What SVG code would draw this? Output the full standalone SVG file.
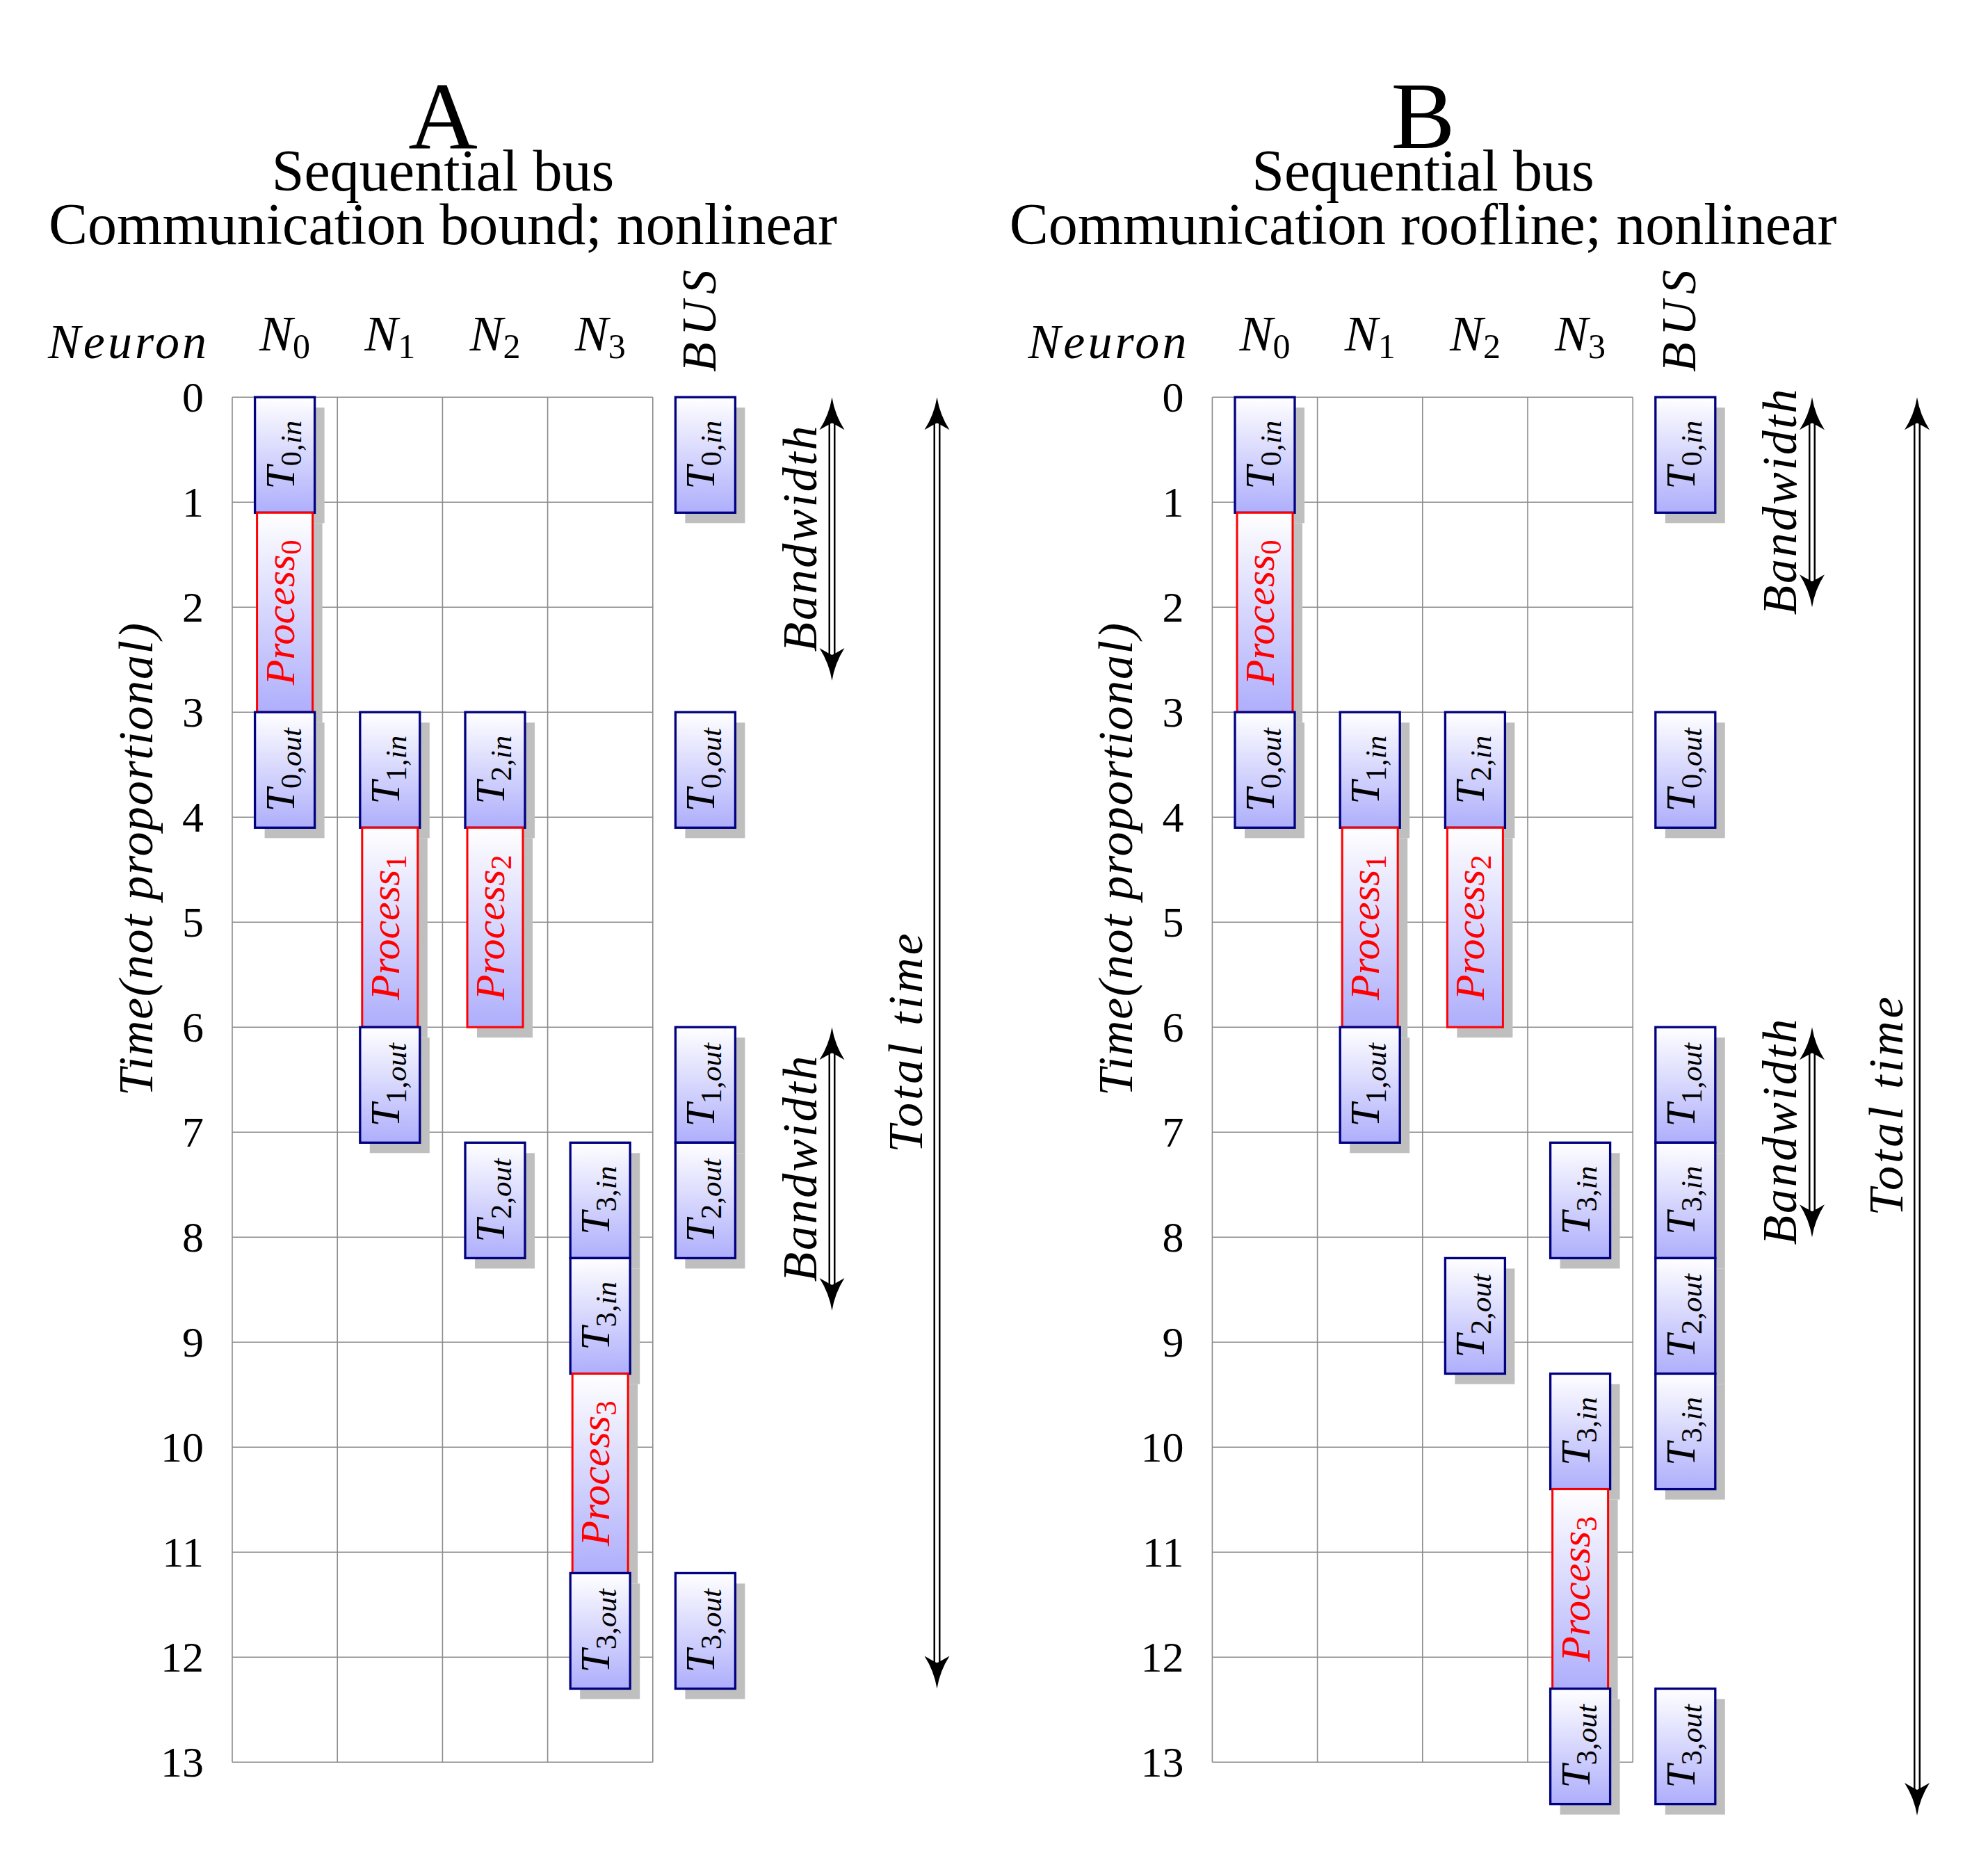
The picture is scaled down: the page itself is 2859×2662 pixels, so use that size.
<svg xmlns="http://www.w3.org/2000/svg" xmlns:xlink="http://www.w3.org/1999/xlink" width="2859" height="2662" viewBox="0 0 2859 2662">
<style>
.txt{font-family:'Liberation Serif','Times New Roman',serif;fill:#000}
.it{font-style:italic}
.up{font-style:normal}
.title{font-size:84px;text-anchor:middle}
.big{font-size:138px;text-anchor:middle}
.num{font-size:62px;text-anchor:end}
.hdr{font-size:72px;text-anchor:middle}
.ax{font-size:70px}
.lbl{font-size:60px;text-anchor:middle}
.sub{font-size:43px}
.hsub{font-size:50px}
.red{fill:#ff0000}
.grid{stroke:#8c8c8c;stroke-width:1.6;fill:none}
.shadow{fill:#bfbfbf}
.tbox{fill:url(#g);stroke:#000080;stroke-width:3.3}
.pbox{fill:url(#g);stroke:#ff0000;stroke-width:3}
.dblo{stroke:#000;stroke-width:10;fill:none}
.dbli{stroke:#fff;stroke-width:5;fill:none}
</style>
<defs>
<linearGradient id="g" x1="0" y1="0" x2="0" y2="1">
<stop offset="0" stop-color="#ffffff"/>
<stop offset="1" stop-color="#aeaefc"/>
</linearGradient>
<path id="head" d="M0 0 Q4 25 18 47 Q6 40 0 37 Q-6 40 -18 47 Q-4 25 0 0 Z" fill="#000"/>
</defs>
<rect width="2859" height="2662" fill="#fff"/>

<!-- ================= PANEL A ================= -->
<g id="A-titles" class="txt">
<text class="txt big" x="637" y="213">A</text>
<text class="txt title" x="637" y="274">Sequential bus</text>
<text class="txt title" x="637" y="351">Communication bound; nonlinear</text>
</g>
<g id="A-headers" class="txt">
<text class="txt it ax" x="69" y="515" textLength="228" lengthAdjust="spacing">Neuron</text>
<text class="txt it hdr" x="409.6" y="503.5">N<tspan class="up hsub" dy="11">0</tspan></text>
<text class="txt it hdr" x="560.8" y="503.5">N<tspan class="up hsub" dy="11">1</tspan></text>
<text class="txt it hdr" x="712" y="503.5">N<tspan class="up hsub" dy="11">2</tspan></text>
<text class="txt it hdr" x="863.2" y="503.5">N<tspan class="up hsub" dy="11">3</tspan></text>
<text class="txt it ax" transform="translate(1029,535) rotate(-90)" textLength="147" lengthAdjust="spacing">BUS</text>
<text class="txt it ax" transform="translate(219,1576) rotate(-90)" textLength="680" lengthAdjust="spacing">Time(not proportional)</text>
</g>
<g id="A-axis" class="txt num">
<text x="293" y="592.2">0</text><text x="293" y="743.2">1</text><text x="293" y="894.2">2</text><text x="293" y="1045.2">3</text>
<text x="293" y="1196.2">4</text><text x="293" y="1347.2">5</text><text x="293" y="1498.2">6</text><text x="293" y="1649.2">7</text>
<text x="293" y="1800.2">8</text><text x="293" y="1951.2">9</text><text x="293" y="2102.2">10</text><text x="293" y="2253.2">11</text>
<text x="293" y="2404.2">12</text><text x="293" y="2555.2">13</text>
</g>
<g id="A-grid">
<path class="grid" d="M334 571.2H938.8M334 722.2H938.8M334 873.2H938.8M334 1024.2H938.8M334 1175.2H938.8M334 1326.2H938.8M334 1477.2H938.8M334 1628.2H938.8M334 1779.2H938.8M334 1930.2H938.8M334 2081.2H938.8M334 2232.2H938.8M334 2383.2H938.8M334 2534.2H938.8M334 571.2V2534.2M485.2 571.2V2534.2M636.4 571.2V2534.2M787.6 571.2V2534.2M938.8 571.2V2534.2"/>
</g>

<!-- A column N0 -->
<g id="A-N0-Tin"><rect class="shadow" x="380.6" y="586.2" width="86" height="166.1"/><rect class="tbox" x="366.6" y="571.2" width="86" height="166.1"/><text class="txt it lbl" transform="translate(422.6,654.25) rotate(-90)">T<tspan class="sub up" dy="10">0,</tspan><tspan class="sub">in</tspan></text></g>
<g id="A-N0-P"><rect class="shadow" x="383.6" y="752.3" width="80" height="286.9"/><rect class="pbox" x="369.6" y="737.3" width="80" height="286.9"/><text class="txt it lbl red" transform="translate(422.6,880.75) rotate(-90)">Process<tspan class="sub up" dy="10">0</tspan></text></g>
<g id="A-N0-Tout"><rect class="shadow" x="380.6" y="1039.2" width="86" height="166.1"/><rect class="tbox" x="366.6" y="1024.2" width="86" height="166.1"/><text class="txt it lbl" transform="translate(422.6,1107.25) rotate(-90)">T<tspan class="sub up" dy="10">0,</tspan><tspan class="sub">out</tspan></text></g>
<!-- A column N1 -->
<g id="A-N1-Tin"><rect class="shadow" x="531.8" y="1039.2" width="86" height="166.1"/><rect class="tbox" x="517.8" y="1024.2" width="86" height="166.1"/><text class="txt it lbl" transform="translate(573.8,1107.25) rotate(-90)">T<tspan class="sub up" dy="10">1,</tspan><tspan class="sub">in</tspan></text></g>
<g id="A-N1-P"><rect class="shadow" x="534.8" y="1205.3" width="80" height="286.9"/><rect class="pbox" x="520.8" y="1190.3" width="80" height="286.9"/><text class="txt it lbl red" transform="translate(573.8,1333.75) rotate(-90)">Process<tspan class="sub up" dy="10">1</tspan></text></g>
<g id="A-N1-Tout"><rect class="shadow" x="531.8" y="1492.2" width="86" height="166.1"/><rect class="tbox" x="517.8" y="1477.2" width="86" height="166.1"/><text class="txt it lbl" transform="translate(573.8,1560.25) rotate(-90)">T<tspan class="sub up" dy="10">1,</tspan><tspan class="sub">out</tspan></text></g>
<!-- A column N2 -->
<g id="A-N2-Tin"><rect class="shadow" x="683" y="1039.2" width="86" height="166.1"/><rect class="tbox" x="669" y="1024.2" width="86" height="166.1"/><text class="txt it lbl" transform="translate(725,1107.25) rotate(-90)">T<tspan class="sub up" dy="10">2,</tspan><tspan class="sub">in</tspan></text></g>
<g id="A-N2-P"><rect class="shadow" x="686" y="1205.3" width="80" height="286.9"/><rect class="pbox" x="672" y="1190.3" width="80" height="286.9"/><text class="txt it lbl red" transform="translate(725,1333.75) rotate(-90)">Process<tspan class="sub up" dy="10">2</tspan></text></g>
<g id="A-N2-Tout"><rect class="shadow" x="683" y="1658.3" width="86" height="166.1"/><rect class="tbox" x="669" y="1643.3" width="86" height="166.1"/><text class="txt it lbl" transform="translate(725,1726.35) rotate(-90)">T<tspan class="sub up" dy="10">2,</tspan><tspan class="sub">out</tspan></text></g>
<!-- A column N3 -->
<g id="A-N3-Tin1"><rect class="shadow" x="834.2" y="1658.3" width="86" height="166.1"/><rect class="tbox" x="820.2" y="1643.3" width="86" height="166.1"/><text class="txt it lbl" transform="translate(876.2,1726.35) rotate(-90)">T<tspan class="sub up" dy="10">3,</tspan><tspan class="sub">in</tspan></text></g>
<g id="A-N3-Tin2"><rect class="shadow" x="834.2" y="1824.4" width="86" height="166.1"/><rect class="tbox" x="820.2" y="1809.4" width="86" height="166.1"/><text class="txt it lbl" transform="translate(876.2,1892.45) rotate(-90)">T<tspan class="sub up" dy="10">3,</tspan><tspan class="sub">in</tspan></text></g>
<g id="A-N3-P"><rect class="shadow" x="837.2" y="1990.5" width="80" height="286.9"/><rect class="pbox" x="823.2" y="1975.5" width="80" height="286.9"/><text class="txt it lbl red" transform="translate(876.2,2118.95) rotate(-90)">Process<tspan class="sub up" dy="10">3</tspan></text></g>
<g id="A-N3-Tout"><rect class="shadow" x="834.2" y="2277.4" width="86" height="166.1"/><rect class="tbox" x="820.2" y="2262.4" width="86" height="166.1"/><text class="txt it lbl" transform="translate(876.2,2345.45) rotate(-90)">T<tspan class="sub up" dy="10">3,</tspan><tspan class="sub">out</tspan></text></g>
<!-- A BUS -->
<g id="A-BUS-T0in"><rect class="shadow" x="985.4" y="586.2" width="86" height="166.1"/><rect class="tbox" x="971.4" y="571.2" width="86" height="166.1"/><text class="txt it lbl" transform="translate(1027.4,654.25) rotate(-90)">T<tspan class="sub up" dy="10">0,</tspan><tspan class="sub">in</tspan></text></g>
<g id="A-BUS-T0out"><rect class="shadow" x="985.4" y="1039.2" width="86" height="166.1"/><rect class="tbox" x="971.4" y="1024.2" width="86" height="166.1"/><text class="txt it lbl" transform="translate(1027.4,1107.25) rotate(-90)">T<tspan class="sub up" dy="10">0,</tspan><tspan class="sub">out</tspan></text></g>
<g id="A-BUS-T1out"><rect class="shadow" x="985.4" y="1492.2" width="86" height="166.1"/><rect class="tbox" x="971.4" y="1477.2" width="86" height="166.1"/><text class="txt it lbl" transform="translate(1027.4,1560.25) rotate(-90)">T<tspan class="sub up" dy="10">1,</tspan><tspan class="sub">out</tspan></text></g>
<g id="A-BUS-T2out"><rect class="shadow" x="985.4" y="1658.3" width="86" height="166.1"/><rect class="tbox" x="971.4" y="1643.3" width="86" height="166.1"/><text class="txt it lbl" transform="translate(1027.4,1726.35) rotate(-90)">T<tspan class="sub up" dy="10">2,</tspan><tspan class="sub">out</tspan></text></g>
<g id="A-BUS-T3out"><rect class="shadow" x="985.4" y="2277.4" width="86" height="166.1"/><rect class="tbox" x="971.4" y="2262.4" width="86" height="166.1"/><text class="txt it lbl" transform="translate(1027.4,2345.45) rotate(-90)">T<tspan class="sub up" dy="10">3,</tspan><tspan class="sub">out</tspan></text></g>

<!-- ================= PANEL B ================= -->
<g id="B-titles" class="txt">
<text class="txt big" x="2046.5" y="213">B</text>
<text class="txt title" x="2046.5" y="274">Sequential bus</text>
<text class="txt title" x="2046.5" y="351">Communication roofline; nonlinear</text>
</g>
<g id="B-headers" class="txt">
<text class="txt it ax" x="1478.4" y="515" textLength="228" lengthAdjust="spacing">Neuron</text>
<text class="txt it hdr" x="1819" y="503.5">N<tspan class="up hsub" dy="11">0</tspan></text>
<text class="txt it hdr" x="1970.2" y="503.5">N<tspan class="up hsub" dy="11">1</tspan></text>
<text class="txt it hdr" x="2121.4" y="503.5">N<tspan class="up hsub" dy="11">2</tspan></text>
<text class="txt it hdr" x="2272.6" y="503.5">N<tspan class="up hsub" dy="11">3</tspan></text>
<text class="txt it ax" transform="translate(2438.4,535) rotate(-90)" textLength="147" lengthAdjust="spacing">BUS</text>
<text class="txt it ax" transform="translate(1628.4,1576) rotate(-90)" textLength="680" lengthAdjust="spacing">Time(not proportional)</text>
</g>
<g id="B-axis" class="txt num">
<text x="1702.4" y="592.2">0</text><text x="1702.4" y="743.2">1</text><text x="1702.4" y="894.2">2</text><text x="1702.4" y="1045.2">3</text>
<text x="1702.4" y="1196.2">4</text><text x="1702.4" y="1347.2">5</text><text x="1702.4" y="1498.2">6</text><text x="1702.4" y="1649.2">7</text>
<text x="1702.4" y="1800.2">8</text><text x="1702.4" y="1951.2">9</text><text x="1702.4" y="2102.2">10</text><text x="1702.4" y="2253.2">11</text>
<text x="1702.4" y="2404.2">12</text><text x="1702.4" y="2555.2">13</text>
</g>
<g id="B-grid">
<path class="grid" d="M1743.4 571.2H2348.2M1743.4 722.2H2348.2M1743.4 873.2H2348.2M1743.4 1024.2H2348.2M1743.4 1175.2H2348.2M1743.4 1326.2H2348.2M1743.4 1477.2H2348.2M1743.4 1628.2H2348.2M1743.4 1779.2H2348.2M1743.4 1930.2H2348.2M1743.4 2081.2H2348.2M1743.4 2232.2H2348.2M1743.4 2383.2H2348.2M1743.4 2534.2H2348.2M1743.4 571.2V2534.2M1894.6 571.2V2534.2M2045.8 571.2V2534.2M2197 571.2V2534.2M2348.2 571.2V2534.2"/>
</g>

<!-- B column N0 -->
<g id="B-N0-Tin"><rect class="shadow" x="1790" y="586.2" width="86" height="166.1"/><rect class="tbox" x="1776" y="571.2" width="86" height="166.1"/><text class="txt it lbl" transform="translate(1832,654.25) rotate(-90)">T<tspan class="sub up" dy="10">0,</tspan><tspan class="sub">in</tspan></text></g>
<g id="B-N0-P"><rect class="shadow" x="1793" y="752.3" width="80" height="286.9"/><rect class="pbox" x="1779" y="737.3" width="80" height="286.9"/><text class="txt it lbl red" transform="translate(1832,880.75) rotate(-90)">Process<tspan class="sub up" dy="10">0</tspan></text></g>
<g id="B-N0-Tout"><rect class="shadow" x="1790" y="1039.2" width="86" height="166.1"/><rect class="tbox" x="1776" y="1024.2" width="86" height="166.1"/><text class="txt it lbl" transform="translate(1832,1107.25) rotate(-90)">T<tspan class="sub up" dy="10">0,</tspan><tspan class="sub">out</tspan></text></g>
<!-- B column N1 -->
<g id="B-N1-Tin"><rect class="shadow" x="1941.2" y="1039.2" width="86" height="166.1"/><rect class="tbox" x="1927.2" y="1024.2" width="86" height="166.1"/><text class="txt it lbl" transform="translate(1983.2,1107.25) rotate(-90)">T<tspan class="sub up" dy="10">1,</tspan><tspan class="sub">in</tspan></text></g>
<g id="B-N1-P"><rect class="shadow" x="1944.2" y="1205.3" width="80" height="286.9"/><rect class="pbox" x="1930.2" y="1190.3" width="80" height="286.9"/><text class="txt it lbl red" transform="translate(1983.2,1333.75) rotate(-90)">Process<tspan class="sub up" dy="10">1</tspan></text></g>
<g id="B-N1-Tout"><rect class="shadow" x="1941.2" y="1492.2" width="86" height="166.1"/><rect class="tbox" x="1927.2" y="1477.2" width="86" height="166.1"/><text class="txt it lbl" transform="translate(1983.2,1560.25) rotate(-90)">T<tspan class="sub up" dy="10">1,</tspan><tspan class="sub">out</tspan></text></g>
<!-- B column N2 -->
<g id="B-N2-Tin"><rect class="shadow" x="2092.4" y="1039.2" width="86" height="166.1"/><rect class="tbox" x="2078.4" y="1024.2" width="86" height="166.1"/><text class="txt it lbl" transform="translate(2134.4,1107.25) rotate(-90)">T<tspan class="sub up" dy="10">2,</tspan><tspan class="sub">in</tspan></text></g>
<g id="B-N2-P"><rect class="shadow" x="2095.4" y="1205.3" width="80" height="286.9"/><rect class="pbox" x="2081.4" y="1190.3" width="80" height="286.9"/><text class="txt it lbl red" transform="translate(2134.4,1333.75) rotate(-90)">Process<tspan class="sub up" dy="10">2</tspan></text></g>
<g id="B-N2-Tout"><rect class="shadow" x="2092.4" y="1824.4" width="86" height="166.1"/><rect class="tbox" x="2078.4" y="1809.4" width="86" height="166.1"/><text class="txt it lbl" transform="translate(2134.4,1892.45) rotate(-90)">T<tspan class="sub up" dy="10">2,</tspan><tspan class="sub">out</tspan></text></g>
<!-- B column N3 -->
<g id="B-N3-Tin1"><rect class="shadow" x="2243.6" y="1658.3" width="86" height="166.1"/><rect class="tbox" x="2229.6" y="1643.3" width="86" height="166.1"/><text class="txt it lbl" transform="translate(2285.6,1726.35) rotate(-90)">T<tspan class="sub up" dy="10">3,</tspan><tspan class="sub">in</tspan></text></g>
<g id="B-N3-Tin2"><rect class="shadow" x="2243.6" y="1990.5" width="86" height="166.1"/><rect class="tbox" x="2229.6" y="1975.5" width="86" height="166.1"/><text class="txt it lbl" transform="translate(2285.6,2058.55) rotate(-90)">T<tspan class="sub up" dy="10">3,</tspan><tspan class="sub">in</tspan></text></g>
<g id="B-N3-P"><rect class="shadow" x="2246.6" y="2156.6" width="80" height="286.9"/><rect class="pbox" x="2232.6" y="2141.6" width="80" height="286.9"/><text class="txt it lbl red" transform="translate(2285.6,2285.05) rotate(-90)">Process<tspan class="sub up" dy="10">3</tspan></text></g>
<g id="B-N3-Tout"><rect class="shadow" x="2243.6" y="2443.5" width="86" height="166.1"/><rect class="tbox" x="2229.6" y="2428.5" width="86" height="166.1"/><text class="txt it lbl" transform="translate(2285.6,2511.55) rotate(-90)">T<tspan class="sub up" dy="10">3,</tspan><tspan class="sub">out</tspan></text></g>
<!-- B BUS -->
<g id="B-BUS-T0in"><rect class="shadow" x="2394.8" y="586.2" width="86" height="166.1"/><rect class="tbox" x="2380.8" y="571.2" width="86" height="166.1"/><text class="txt it lbl" transform="translate(2436.8,654.25) rotate(-90)">T<tspan class="sub up" dy="10">0,</tspan><tspan class="sub">in</tspan></text></g>
<g id="B-BUS-T0out"><rect class="shadow" x="2394.8" y="1039.2" width="86" height="166.1"/><rect class="tbox" x="2380.8" y="1024.2" width="86" height="166.1"/><text class="txt it lbl" transform="translate(2436.8,1107.25) rotate(-90)">T<tspan class="sub up" dy="10">0,</tspan><tspan class="sub">out</tspan></text></g>
<g id="B-BUS-T1out"><rect class="shadow" x="2394.8" y="1492.2" width="86" height="166.1"/><rect class="tbox" x="2380.8" y="1477.2" width="86" height="166.1"/><text class="txt it lbl" transform="translate(2436.8,1560.25) rotate(-90)">T<tspan class="sub up" dy="10">1,</tspan><tspan class="sub">out</tspan></text></g>
<g id="B-BUS-T3in1"><rect class="shadow" x="2394.8" y="1658.3" width="86" height="166.1"/><rect class="tbox" x="2380.8" y="1643.3" width="86" height="166.1"/><text class="txt it lbl" transform="translate(2436.8,1726.35) rotate(-90)">T<tspan class="sub up" dy="10">3,</tspan><tspan class="sub">in</tspan></text></g>
<g id="B-BUS-T2out"><rect class="shadow" x="2394.8" y="1824.4" width="86" height="166.1"/><rect class="tbox" x="2380.8" y="1809.4" width="86" height="166.1"/><text class="txt it lbl" transform="translate(2436.8,1892.45) rotate(-90)">T<tspan class="sub up" dy="10">2,</tspan><tspan class="sub">out</tspan></text></g>
<g id="B-BUS-T3in2"><rect class="shadow" x="2394.8" y="1990.5" width="86" height="166.1"/><rect class="tbox" x="2380.8" y="1975.5" width="86" height="166.1"/><text class="txt it lbl" transform="translate(2436.8,2058.55) rotate(-90)">T<tspan class="sub up" dy="10">3,</tspan><tspan class="sub">in</tspan></text></g>
<g id="B-BUS-T3out"><rect class="shadow" x="2394.8" y="2443.5" width="86" height="166.1"/><rect class="tbox" x="2380.8" y="2428.5" width="86" height="166.1"/><text class="txt it lbl" transform="translate(2436.8,2511.55) rotate(-90)">T<tspan class="sub up" dy="10">3,</tspan><tspan class="sub">out</tspan></text></g>

<!-- ================= CONNECTORS ================= -->
<g id="connectors">
<!-- A bandwidth 1 -->
<path class="dblo" d="M1196.5 601.2V948.9"/><path class="dbli" d="M1196.5 608.2V941.9"/>
<use xlink:href="#head" href="#head" transform="translate(1196.5,571.2)"/><use xlink:href="#head" href="#head" transform="translate(1196.5,978.9) rotate(180)"/>
<!-- A bandwidth 2 -->
<path class="dblo" d="M1196.5 1507.2V1854.9"/><path class="dbli" d="M1196.5 1514.2V1847.9"/>
<use xlink:href="#head" href="#head" transform="translate(1196.5,1477.2)"/><use xlink:href="#head" href="#head" transform="translate(1196.5,1884.9) rotate(180)"/>
<!-- A total time -->
<path class="dblo" d="M1347.5 601.2V2398.5"/><path class="dbli" d="M1347.5 608.2V2391.5"/>
<use xlink:href="#head" href="#head" transform="translate(1347.5,571.2)"/><use xlink:href="#head" href="#head" transform="translate(1347.5,2428.5) rotate(180)"/>
<!-- B bandwidth 1 -->
<path class="dblo" d="M2606 601.2V843.2"/><path class="dbli" d="M2606 608.2V836.2"/>
<use xlink:href="#head" href="#head" transform="translate(2606,571.2)"/><use xlink:href="#head" href="#head" transform="translate(2606,873.2) rotate(180)"/>
<!-- B bandwidth 2 -->
<path class="dblo" d="M2606 1507.2V1749.2"/><path class="dbli" d="M2606 1514.2V1742.2"/>
<use xlink:href="#head" href="#head" transform="translate(2606,1477.2)"/><use xlink:href="#head" href="#head" transform="translate(2606,1779.2) rotate(180)"/>
<!-- B total time -->
<path class="dblo" d="M2757 601.2V2581"/><path class="dbli" d="M2757 608.2V2574"/>
<use xlink:href="#head" href="#head" transform="translate(2757,571.2)"/><use xlink:href="#head" href="#head" transform="translate(2757,2611) rotate(180)"/>
</g>
<g id="connector-labels" class="txt">
<text class="txt it ax" text-anchor="middle" transform="translate(1174,775) rotate(-90)" textLength="325" lengthAdjust="spacing">Bandwidth</text>
<text class="txt it ax" text-anchor="middle" transform="translate(1174,1681) rotate(-90)" textLength="325" lengthAdjust="spacing">Bandwidth</text>
<text class="txt it ax" text-anchor="middle" transform="translate(1326,1500) rotate(-90)" textLength="315" lengthAdjust="spacing">Total time</text>
<text class="txt it ax" text-anchor="middle" transform="translate(2583,722) rotate(-90)" textLength="325" lengthAdjust="spacing">Bandwidth</text>
<text class="txt it ax" text-anchor="middle" transform="translate(2583,1628) rotate(-90)" textLength="325" lengthAdjust="spacing">Bandwidth</text>
<text class="txt it ax" text-anchor="middle" transform="translate(2735.5,1591) rotate(-90)" textLength="315" lengthAdjust="spacing">Total time</text>
</g>
</svg>
